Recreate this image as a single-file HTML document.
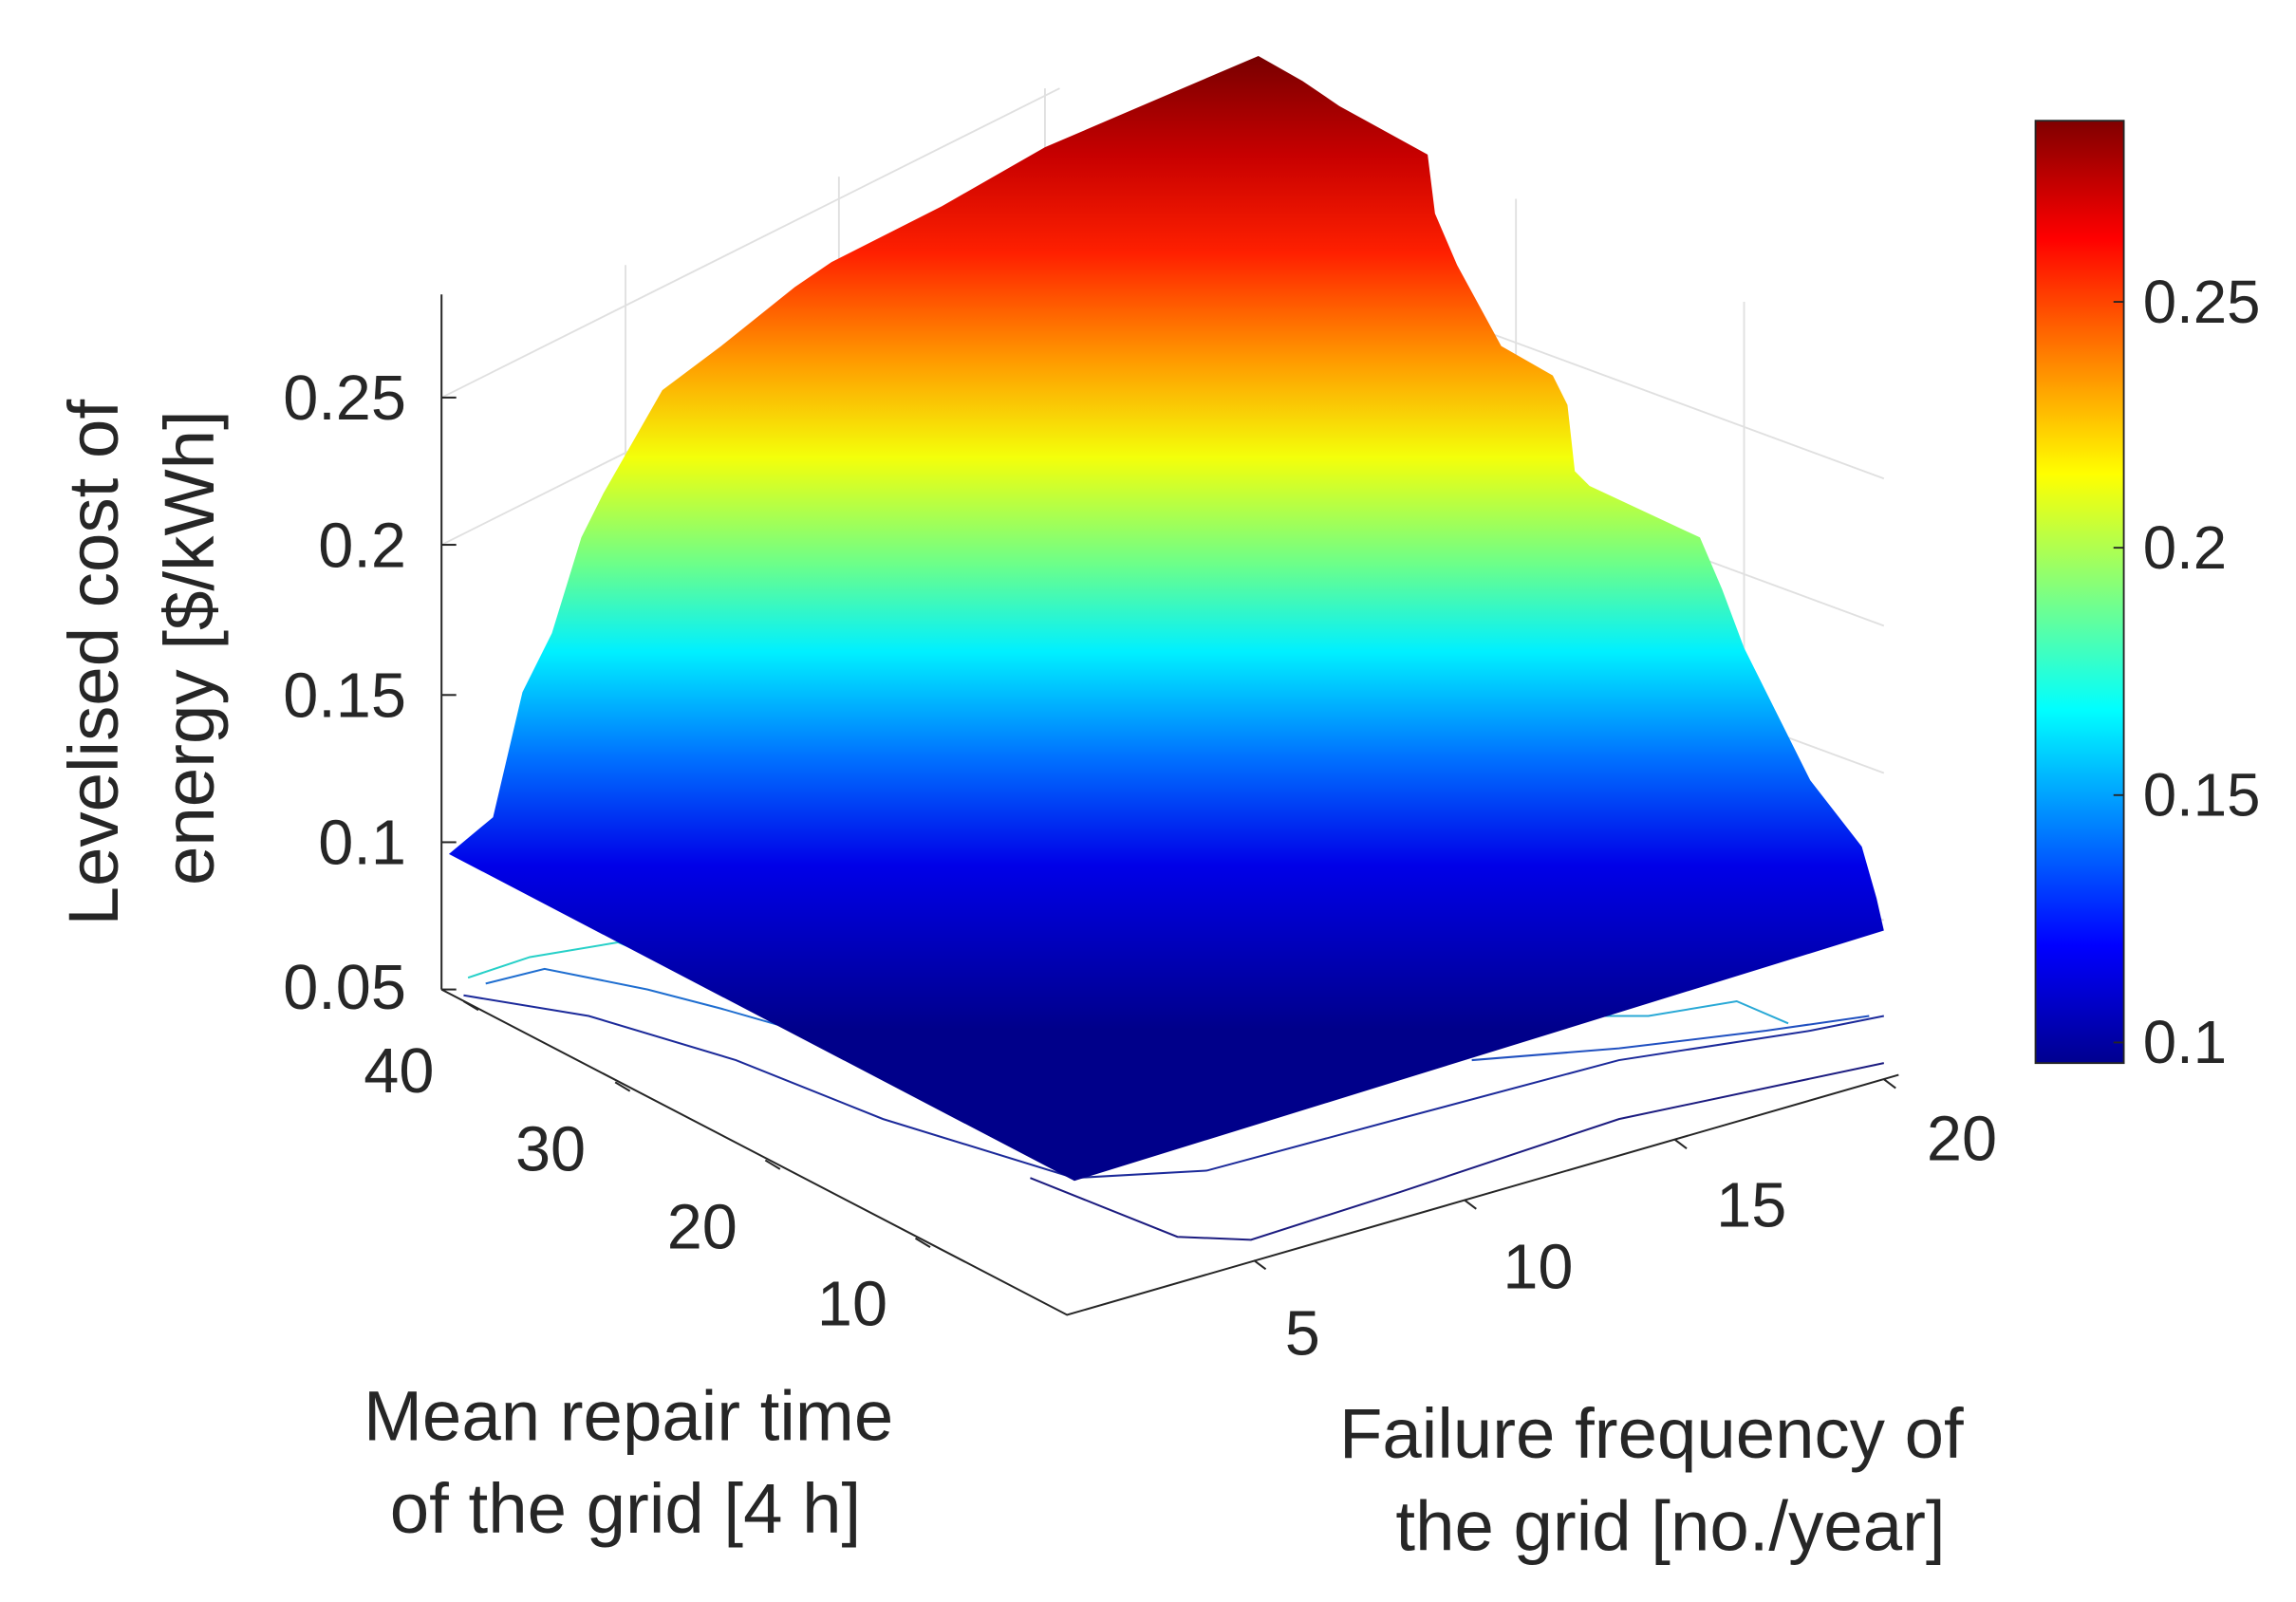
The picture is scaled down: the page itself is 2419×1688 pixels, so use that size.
<!DOCTYPE html>
<html><head><meta charset="utf-8"><style>html,body{margin:0;padding:0;background:#fff}svg{display:block}</style></head>
<body>
<svg width="2419" height="1688" viewBox="0 0 1560 1088" preserveAspectRatio="none" xmlns="http://www.w3.org/2000/svg" font-family="Liberation Sans, sans-serif">
<defs>
<linearGradient id="surf" gradientUnits="userSpaceOnUse" x1="0" y1="40" x2="0" y2="700">
<stop offset="0" stop-color="#7a0000"/>
<stop offset="0.1" stop-color="#c80000"/>
<stop offset="0.2" stop-color="#ff2000"/>
<stop offset="0.31" stop-color="#ff9a00"/>
<stop offset="0.41" stop-color="#f4ff0a"/>
<stop offset="0.52" stop-color="#6cff8a"/>
<stop offset="0.61" stop-color="#00f0ff"/>
<stop offset="0.72" stop-color="#0070ff"/>
<stop offset="0.83" stop-color="#0000e8"/>
<stop offset="1" stop-color="#00008a"/>
</linearGradient>
<linearGradient id="cb" x1="0" y1="0" x2="0" y2="1">
<stop offset="0" stop-color="#800000"/>
<stop offset="0.125" stop-color="#ff0000"/>
<stop offset="0.375" stop-color="#ffff00"/>
<stop offset="0.625" stop-color="#00ffff"/>
<stop offset="0.875" stop-color="#0000ff"/>
<stop offset="1" stop-color="#00008f"/>
</linearGradient>
</defs>
<rect width="1560" height="1088" fill="#fff"/>
<g stroke="#e0e0e0" stroke-width="1.2" fill="none">
<line x1="425" y1="180" x2="425" y2="620"/>
<line x1="570" y1="120" x2="570" y2="600"/>
<line x1="710" y1="60" x2="710" y2="560"/>
<line x1="1030" y1="135" x2="1030" y2="560"/>
<line x1="1185" y1="205" x2="1185" y2="600"/>
<line x1="300" y1="270" x2="720" y2="60"/>
<line x1="300" y1="370" x2="720" y2="160"/>
<line x1="860" y1="170" x2="1280" y2="325"/>
<line x1="860" y1="270" x2="1280" y2="425"/>
<line x1="860" y1="370" x2="1280" y2="525"/>
<line x1="860" y1="470" x2="1280" y2="625"/>
</g>
<g stroke="#262626" stroke-width="1.3" fill="none">
<line x1="300" y1="200" x2="300" y2="672"/>
<line x1="300" y1="270" x2="310" y2="270"/><line x1="300" y1="370" x2="310" y2="370"/>
<line x1="300" y1="472" x2="310" y2="472"/><line x1="300" y1="572" x2="310" y2="572"/>
<line x1="300" y1="672" x2="310" y2="672"/>
<polyline points="300,672 725,893 1290,730"/>
<line x1="315" y1="680" x2="325" y2="686"/><line x1="418" y1="735" x2="428" y2="741"/>
<line x1="520" y1="788" x2="530" y2="794"/><line x1="622" y1="841" x2="632" y2="847"/>
<line x1="852" y1="856" x2="860" y2="862"/><line x1="995" y1="815" x2="1003" y2="821"/>
<line x1="1138" y1="774" x2="1146" y2="780"/><line x1="1280" y1="733" x2="1288" y2="739"/>
</g>
<g fill="none" stroke-width="1.3">
<path d="M318,664 L360,650 L420,640 L470,660 L520,690" stroke="#27d0c8"/>
<path d="M330,668 L370,658 L440,672 L490,685 L560,705" stroke="#1f6ed0"/>
<path d="M315,676 L400,690 L500,720 L600,760 L730,800 L820,795 L950,760 L1100,720 L1230,700 L1280,690" stroke="#1c2a9a"/>
<path d="M700,800 L800,840 L850,842 L950,810 L1100,760 L1280,722" stroke="#1c1c80"/>
<path d="M1040,690 L1120,690 L1180,680 L1215,695" stroke="#29a9d6"/>
<path d="M1000,720 L1100,712 L1200,700 L1270,690" stroke="#2050c0"/>
</g>
<polygon fill="url(#surf)" points="305,580 335,555 355,470 375,430 395,365 410,335 450,265 490,235 540,195 565,178 640,140 710,100 780,70 855,38 885,55 910,72 970,105 975,145 990,180 1020,235 1055,255 1065,275 1070,320 1080,330 1155,365 1170,400 1185,440 1210,490 1230,530 1265,575 1275,610 1280,632 730,802"/>
<g font-size="43" fill="#262626" text-anchor="end">
<text x="276" y="285">0.25</text><text x="276" y="385">0.2</text>
<text x="276" y="487">0.15</text><text x="276" y="587">0.1</text><text x="276" y="685">0.05</text>
<text x="295" y="742">40</text><text x="398" y="795">30</text><text x="501" y="848">20</text><text x="603" y="900">10</text>
</g>
<g font-size="43" fill="#262626" text-anchor="middle">
<text x="885" y="920">5</text><text x="1045" y="875">10</text><text x="1190" y="833">15</text><text x="1333" y="788">20</text>
</g>
<g font-size="48" fill="#262626" text-anchor="middle">
<text transform="translate(80,450) rotate(-90)">Levelised cost of</text>
<text transform="translate(145,440) rotate(-90)">energy [$/kWh]</text>
<text x="427" y="978">Mean repair time</text>
<text x="425" y="1041">of the grid [4 h]</text>
<text x="1122" y="990">Failure frequency of</text>
<text x="1135" y="1053">the grid [no./year]</text>
</g>
<rect x="1383" y="82" width="60" height="640" fill="url(#cb)" stroke="#262626" stroke-width="1.2"/>
<g stroke="#262626" stroke-width="1.2">
<line x1="1436" y1="205" x2="1443" y2="205"/><line x1="1436" y1="372" x2="1443" y2="372"/>
<line x1="1436" y1="540" x2="1443" y2="540"/><line x1="1436" y1="708" x2="1443" y2="708"/>
</g>
<g font-size="41" fill="#262626">
<text x="1456" y="219">0.25</text><text x="1456" y="386">0.2</text>
<text x="1456" y="554">0.15</text><text x="1456" y="722">0.1</text>
</g>
</svg>
</body></html>
